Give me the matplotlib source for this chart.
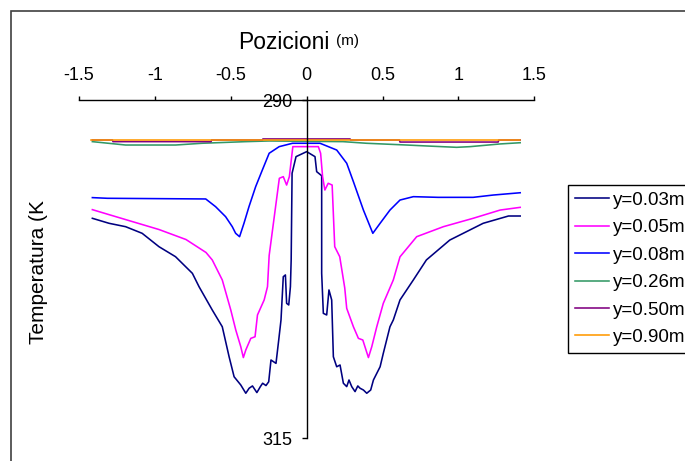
import matplotlib
matplotlib.use("Agg")
import matplotlib.pyplot as plt
from matplotlib.patches import Rectangle

plt.rcParams['font.family'] = ['Liberation Sans', 'DejaVu Sans']

# ---- data (position in m, temperature in K) ----
x_003 = [-1.412, -1.302, -1.193, -1.084, -0.973, -0.864, -0.753, -0.709, -0.622, -0.556, -0.511, -0.478,
         -0.434, -0.401, -0.379, -0.357, -0.328, -0.305, -0.290, -0.268, -0.250, -0.235, -0.202, -0.184,
         -0.169, -0.154, -0.140, -0.132, -0.118, -0.107, -0.102, -0.096, -0.070, 0.0, 0.055, 0.066, 0.099,
         0.099, 0.110, 0.132, 0.147, 0.165, 0.176, 0.198, 0.220, 0.242, 0.264, 0.279, 0.297, 0.319, 0.337,
         0.352, 0.374, 0.396, 0.422, 0.440, 0.484, 0.505, 0.549, 0.571, 0.615, 0.703, 0.789, 0.943, 1.163,
         1.330, 1.407]
T_003 = [298.75, 299.12, 299.37, 299.86, 300.85, 301.59, 302.82, 303.81, 305.53, 306.77, 308.99, 310.47,
         311.08, 311.69, 311.32, 311.15, 311.64, 311.20, 310.95, 311.12, 310.84, 309.23, 309.48, 307.75,
         306.27, 303.07, 302.94, 305.04, 305.16, 303.81, 301.83, 295.42, 294.19, 293.82, 294.19, 295.30, 295.6,
         302.82, 305.78, 305.90, 304.05, 304.79, 308.99, 309.73, 309.60, 310.95, 311.20, 310.71, 311.20, 311.57,
         311.15, 311.32, 311.45, 311.69, 311.45, 310.71, 309.73, 308.74, 306.77, 306.27, 304.79, 303.31, 301.83,
         300.36, 299.12, 298.58, 298.58]

x_005 = [-1.412, -1.302, -0.973, -0.795, -0.663, -0.622, -0.556, -0.500, -0.467, -0.434, -0.417, -0.401,
         -0.368, -0.340, -0.324, -0.280, -0.258, -0.247, -0.180, -0.154, -0.132, -0.114, -0.091, 0.0, 0.077,
         0.092, 0.105, 0.120, 0.142, 0.168, 0.185, 0.218, 0.251, 0.264, 0.308, 0.341, 0.370, 0.407, 0.429,
         0.462, 0.505, 0.571, 0.615, 0.725, 0.901, 1.097, 1.275, 1.407]
T_005 = [298.11, 298.48, 299.58, 300.32, 301.28, 301.83, 303.31, 305.53, 307.01, 308.25, 309.05, 308.49,
         307.63, 307.51, 305.90, 304.79, 303.81, 301.5, 295.79, 295.67, 296.29, 295.67, 293.45, 293.45, 293.45,
         293.94, 295.67, 296.66, 296.16, 296.29, 300.85, 301.59, 303.9, 305.41, 306.77, 307.63, 307.75, 309.05,
         308.25, 306.77, 305.04, 303.31, 301.6, 300.11, 299.37, 298.75, 298.14, 297.94]

x_008 = [-1.412, -1.313, -0.665, -0.600, -0.534, -0.490, -0.468, -0.442, -0.413, -0.380, -0.336, -0.292,
         -0.247, -0.181, -0.093, 0.088, 0.198, 0.264, 0.308, 0.374, 0.436, 0.484, 0.549, 0.615, 0.703, 0.867,
         1.097, 1.229, 1.407]
T_008 = [297.22, 297.27, 297.32, 297.89, 298.63, 299.37, 299.86, 300.11, 299.12, 297.89, 296.41, 295.18,
         293.94, 293.45, 293.20, 293.20, 293.70, 294.68, 296.04, 298.14, 299.86, 299.12, 298.14, 297.40, 297.15,
         297.20, 297.20, 297.03, 296.86]

x_026 = [-1.412, -1.193, -0.864, -0.689, -0.401, -0.247, 0.240, 0.394, 0.659, 0.790, 0.988, 1.077, 1.275, 1.407]
T_026 = [293.08, 293.33, 293.33, 293.20, 293.08, 293.03, 293.08, 293.20, 293.33, 293.40, 293.50, 293.45,
         293.25, 293.16]

x_050 = [-1.412, -1.280, -1.276, -0.630, -0.626, -0.292, -0.288, 0.286, 0.290, 0.611, 0.615, 1.262, 1.266, 1.407]
T_050 = [292.96, 292.96, 293.08, 293.08, 292.96, 292.96, 292.88, 292.88, 292.96, 292.96, 293.11, 293.11,
         292.96, 292.96]

x_090 = [-1.423, -0.5, 0.5, 1.407]
T_090 = [292.96, 292.96, 292.96, 292.96]

labels = ["y=0.03m", "y=0.05m", "y=0.08m", "y=0.26m", "y=0.50m", "y=0.90m"]
colors = ["#000080", "#ff00ff", "#0000ff", "#339966", "#800080", "#ff9900"]
series = [(x_003, T_003), (x_005, T_005), (x_008, T_008), (x_026, T_026), (x_050, T_050), (x_090, T_090)]

x_ticks = [-1.5, -1, -0.5, 0, 0.5, 1, 1.5]
x_ticklabels = ["-1.5", "-1", "-0.5", "0", "0.5", "1", "1.5"]
y_ticks = [290, 315]

# ---- figure ----
W, H = 685, 461
fig = plt.figure(figsize=(W / 100, H / 100), dpi=100)
fig.patch.set_facecolor("white")

ax = fig.add_axes([79 / W, 1 - 438 / H, (534.3 - 79) / W, (438 - 100) / H])
ax.set_facecolor("none")

for (xs, ts), c, lab in zip(series, colors, labels):
    ax.plot(xs, ts, color=c, lw=1.15, label=lab)

ax.set_xlim(-1.5, 1.5)
ax.set_ylim(315, 290)

ax.spines['right'].set_visible(False)
ax.spines['bottom'].set_visible(False)
ax.spines['left'].set_position(('data', 0))
for s in ('top', 'left'):
    ax.spines[s].set_color('black')
    ax.spines[s].set_linewidth(1.0)

ax.xaxis.tick_top()
ax.set_xticks(x_ticks)
ax.set_xticklabels(x_ticklabels)
ax.tick_params(axis='x', direction='out', length=3, width=1, pad=8.5, labelsize=13, colors='black')
ax.set_yticks(y_ticks)
ax.tick_params(axis='y', direction='out', length=3.6, width=1, pad=7, labelsize=13, colors='black')

# axis titles
fig.text(238 / W, 1 - 49 / H, "Pozicioni", fontsize=16.5, ha='left', va='baseline')
fig.text(336 / W, 1 - 45.5 / H, "(m)", fontsize=11, ha='left', va='baseline')
fig.text(38 / W, 1 - 272 / H, "Temperatura (K", fontsize=15, rotation=90, ha='center', va='center')

# legend
leg = fig.legend(loc='upper left', bbox_to_anchor=(568 / W, 1 - 185 / H), bbox_transform=fig.transFigure,
                 fontsize=13.5, frameon=True, fancybox=False, framealpha=1, edgecolor='black',
                 handlelength=1.85, handletextpad=0.2, labelspacing=0.55, borderpad=0.36, borderaxespad=0)
leg.get_frame().set_linewidth(1.0)

# outer chart border
fig.add_artist(Rectangle((11 / W, -0.05), 1.2, 1.05 - 11 / H, transform=fig.transFigure,
                         fill=False, edgecolor='#404040', lw=1.2, clip_on=False))

fig.savefig("out.png", dpi=100)
